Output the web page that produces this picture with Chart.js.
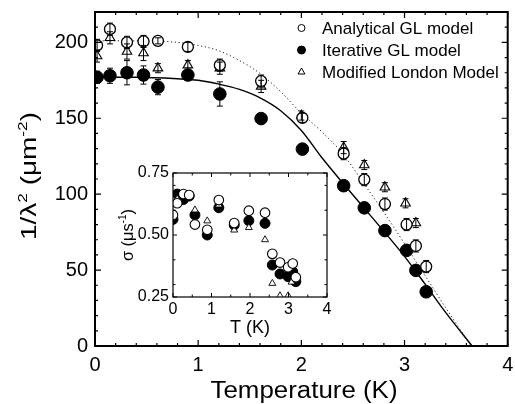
<!DOCTYPE html>
<html><head><meta charset="utf-8">
<script src="https://cdn.jsdelivr.net/npm/chart.js@4/dist/chart.umd.min.js"></script>
<style>
html,body{margin:0;padding:0;background:#fff;}
#wrap{position:relative;width:515px;height:404px;overflow:hidden;}
#main{position:absolute;left:0;top:0;}
#inset{position:absolute;left:100px;top:160px;}
</style></head><body>
<div id="wrap"><canvas id="main" width="515" height="404"></canvas><canvas id="inset" width="235" height="185"></canvas></div>
<script>
// ---------- DATA (main panel) ----------
const temps          = [0.02,0.145,0.31,0.47,0.61,0.90,1.21,1.61,2.01,2.41,2.61,2.81,3.02,3.11,3.21];
const analyticalGL   = [198,208.7,200,200.6,201,197,185,174.5,150.3,126.7,109.6,93.5,80,65.9,52.3];
const analyticalErr  = [4,4,4,4,2,3,4,4,3,4,4,4,4,4,4];
const iterativeGL    = [177,178,180,178.5,170.5,178.5,166,149.8,129.7,105.6,91,76,63,49.8,35.7];
const iterativeErr   = [4,5,8,6,5,3,8,0,0,0,0,0,0,0,0];
const londonTemps    = [0.02,0.145,0.31,0.47,0.61,0.90,1.21,1.61,2.0,2.41,2.61,2.81,3.01,3.11];
const modifiedLondon = [191,203,194,193,183,185,183,171,151.8,130.7,119.2,104.6,94,81];
const londonErr      = [4,4,5,5,3,3,4,4,3,4,3,3,3,3];
// fit curves
const dottedFitT     = [0,0.4,0.8,1.0,1.2,1.4,1.6,1.8,2.0,2.2,2.4,2.6,2.8,3.0,3.2,3.4,3.645];
const analyticalFit  = [201,201,200,198,194.5,188,179.5,167.5,153.3,141,126.7,107.6,88,67.4,46.3,25.1,0];
const solidFitT      = [0,0.4,0.8,1.0,1.2,1.4,1.6,1.8,2.0,2.2,2.4,2.6,2.8,3.0,3.2,3.4,3.655];
const iterativeFit   = [177,177,176,175,172.5,169,163.5,155,142,124,107.5,91.5,75.5,59,40.7,22,0];
// ticks
const tempTicks      = [0,1,2,3,4];
const tempMinor      = [0.2,0.4,0.6,0.8,1.2,1.4,1.6,1.8,2.2,2.4,2.6,2.8,3.2,3.4,3.6,3.8];
const lambdaTicks    = [0,50,100,150,200];
const lambdaMinor    = [10,20,30,40,60,70,80,90,110,120,130,140,160,170,180,190,210];
// ---------- DATA (inset) ----------
const insetTemps     = [0,0.11,0.27,0.42,0.57,0.89,1.19,1.59,1.97,2.39,2.58,2.78,2.99,3.11,3.19];
const sigmaAnalytical= [0.581,0.628,0.665,0.661,0.542,0.521,0.641,0.548,0.598,0.590,0.424,0.389,0.370,0.385,0.330];
const sigmaIterative = [0.563,0.665,0.643,0.657,0.581,0.500,0.610,0.540,0.558,0.547,0.379,0.343,0.332,0.352,0.312];
const insetLondonT   = [0,0.11,0.27,0.42,0.57,0.89,1.19,1.59,1.97,2.39,2.58,2.78,2.99,3.08];
const sigmaLondon    = [0.575,0.645,0.665,0.660,0.601,0.557,0.621,0.520,0.530,0.481,0.305,0.255,0.255,0.310];
const insetTTicks    = [0,1,2,3,4];
const insetTMinor    = [0.5,1.5,2.5,3.5];
const sigmaTicks     = [0.25,0.50,0.75];
const sigmaMinor     = [0.3,0.4,0.6,0.7];
const legendLabels   = ['Analytical GL model','Iterative GL model','Modified London Model'];

const FONT = "'Liberation Sans', Arial, Helvetica, sans-serif";
Chart.defaults.font.family = FONT;
Chart.defaults.color = '#000';
const pts = (xs, ys) => xs.map((x,i)=>({x:x, y:ys[i]}));

function drawRich(ctx, parts, size, x, y, rotate, targetLen){
  ctx.save();
  ctx.translate(x,y);
  if (rotate) ctx.rotate(-Math.PI/2);
  const sup = size*0.62;
  let w = 0;
  parts.forEach(([t,s])=>{ ctx.font = (s?sup:size)+'px '+FONT; w += ctx.measureText(t).width; });
  const k = targetLen ? targetLen/w : 1;
  ctx.scale(k,1);
  ctx.textAlign='left'; ctx.textBaseline='alphabetic'; ctx.fillStyle='#000';
  let cx = -w/2;
  parts.forEach(([t,s])=>{ ctx.font = (s?sup:size)+'px '+FONT; ctx.fillText(t, cx, s ? -size*0.42 : 0); cx += ctx.measureText(t).width; });
  ctx.restore();
}

function framePlugin(o){
  return { id:'frame'+o.name, afterDraw(chart){
    const {ctx, chartArea:a, scales:{x,y}} = chart;
    ctx.save(); ctx.strokeStyle='#000';
    ctx.lineWidth = o.tw;
    const tick = (vals, len, isX) => {
      ctx.beginPath();
      vals.forEach(v=>{
        if (isX){ const p=x.getPixelForValue(v); ctx.moveTo(p,a.bottom); ctx.lineTo(p,a.bottom-len); ctx.moveTo(p,a.top); ctx.lineTo(p,a.top+len); }
        else { const p=y.getPixelForValue(v); ctx.moveTo(a.left,p); ctx.lineTo(a.left+len,p); ctx.moveTo(a.right,p); ctx.lineTo(a.right-len,p); }
      });
      ctx.stroke();
    };
    tick(o.xMajor,o.major,true); tick(o.xMinor,o.minor,true);
    tick(o.yMajor,o.major,false); tick(o.yMinor,o.minor,false);
    ctx.lineWidth = o.lw;
    ctx.strokeRect(a.left, a.top, a.right-a.left, a.bottom-a.top);
    ctx.restore();
  }};
}

const errorBars = { id:'errorBars', afterDatasetsDraw(chart){
  const ctx = chart.ctx, ys = chart.scales.y;
  ctx.save(); ctx.strokeStyle='#000'; ctx.lineWidth=1;
  chart.data.datasets.forEach((ds,i)=>{
    if (!ds.errors) return;
    const meta = chart.getDatasetMeta(i);
    meta.data.forEach((pt,j)=>{
      const e = ds.errors[j]; if (!e) return;
      const v = ds.data[j].y;
      const y1 = ys.getPixelForValue(v+e), y2 = ys.getPixelForValue(v-e);
      ctx.beginPath();
      ctx.moveTo(pt.x,y1); ctx.lineTo(pt.x,y2);
      ctx.moveTo(pt.x-3,y1); ctx.lineTo(pt.x+3,y1);
      ctx.moveTo(pt.x-3,y2); ctx.lineTo(pt.x+3,y2);
      ctx.stroke();
    });
  });
  ctx.restore();
}};

const mainDecor = { id:'mainDecor', afterDraw(chart){
  const ctx = chart.ctx;
  drawRich(ctx, [['Temperature (K)',false]], 23, 304, 398, false, 187);
  drawRich(ctx, [['1/λ',false],['2',true],[' (μm',false],['-2',true],[')',false]], 22, 36, 176, true, 128);
  const ds = chart.data.datasets;
  const rows = [[0,28],[2,50],[1,72]];
  ctx.save();
  rows.forEach(([di,yy],r)=>{
    const d = ds[di];
    ctx.lineWidth=1; ctx.strokeStyle='#000';
    ctx.fillStyle = d.pointBackgroundColor;
    ctx.beginPath();
    if (d.pointStyle==='triangle'){
      const R=4;
      ctx.moveTo(301.5, yy-R); ctx.lineTo(301.5+R*0.866, yy+R*0.5); ctx.lineTo(301.5-R*0.866, yy+R*0.5); ctx.closePath();
    } else {
      ctx.arc(301.5, yy, d.pointBackgroundColor==='#000'?4:3.5, 0, Math.PI*2);
    }
    ctx.fill(); ctx.stroke();
    ctx.fillStyle='#000'; ctx.font='17px '+FONT; ctx.textBaseline='middle'; ctx.textAlign='left';
    ctx.fillText(legendLabels[r], 322, yy+1);
  });
  ctx.restore();
}};

const noPad = s => { s.paddingLeft = 0; s.paddingRight = 0; s.paddingTop = 0; s.paddingBottom = 0; };

new Chart(document.getElementById('main'), {
  type:'scatter',
  data:{ datasets:[
    {label:legendLabels[0], data:pts(temps, analyticalGL), errors:analyticalErr, pointStyle:'circle', pointRadius:5.5, pointBackgroundColor:'#fff', pointBorderColor:'#000', pointBorderWidth:1.3},
    {label:legendLabels[2], data:pts(londonTemps, modifiedLondon), errors:londonErr, pointStyle:'triangle', pointRadius:5.5, pointBackgroundColor:'#fff', pointBorderColor:'#000', pointBorderWidth:1.1},
    {label:legendLabels[1], data:pts(temps, iterativeGL), errors:iterativeErr, pointStyle:'circle', pointRadius:6.3, pointBackgroundColor:'#000', pointBorderColor:'#000', pointBorderWidth:1},
    {label:'Analytical GL fit', data:pts(dottedFitT, analyticalFit), showLine:true, pointRadius:0, borderColor:'#222', borderWidth:1, borderDash:[1.2,2.6], cubicInterpolationMode:'monotone'},
    {label:'Iterative GL fit', data:pts(solidFitT, iterativeFit), showLine:true, pointRadius:0, borderColor:'#000', borderWidth:1.4, cubicInterpolationMode:'monotone'}
  ]},
  options:{
    responsive:false, animation:false, events:[],
    layout:{padding:{left:0, top:12, right:6, bottom:0}},
    plugins:{legend:{display:false}, tooltip:{enabled:false}},
    scales:{
      x:{type:'linear', min:0, max:4, grid:{display:false}, border:{display:false},
         ticks:{font:{size:20}, padding:-1, maxRotation:0, callback:v=>String(v)},
         afterBuildTicks:s=>{ s.ticks = tempTicks.map(v=>({value:v})); },
         afterFit:s=>{ s.height = 58; noPad(s); }},
      y:{type:'linear', min:0, max:220, grid:{display:false}, border:{display:false},
         ticks:{font:{size:20}, padding:-1, callback:v=>String(v)},
         afterBuildTicks:s=>{ s.ticks = lambdaTicks.map(v=>({value:v})); },
         afterFit:s=>{ s.width = 95; noPad(s); }}
    }
  },
  plugins:[errorBars, framePlugin({name:'m', lw:2, tw:1.2, major:6, minor:3, xMajor:tempTicks, xMinor:tempMinor, yMajor:lambdaTicks, yMinor:lambdaMinor}), mainDecor]
});

// ---------- inset ----------
const insetBg = { id:'insetBg', beforeDraw(chart){ const {ctx, chartArea:a}=chart; ctx.save(); ctx.fillStyle='#fff'; ctx.fillRect(a.left,a.top,a.right-a.left,a.bottom-a.top); ctx.restore(); } };
const insetDecor = { id:'insetDecor', afterDraw(chart){
  const ctx = chart.ctx;
  drawRich(ctx, [['T (K)',false]], 18, 150, 173, false, 40);
  drawRich(ctx, [['σ (μs',false],['-1',true],[')',false]], 17, 33, 75, true, 52);
}};
new Chart(document.getElementById('inset'), {
  type:'scatter',
  data:{ datasets:[
    {label:legendLabels[0], data:pts(insetTemps, sigmaAnalytical), pointStyle:'circle', pointRadius:4.8, pointBackgroundColor:'#fff', pointBorderColor:'#000', pointBorderWidth:1.1},
    {label:legendLabels[2], data:pts(insetLondonT, sigmaLondon), pointStyle:'triangle', pointRadius:4, pointBackgroundColor:'#fff', pointBorderColor:'#000', pointBorderWidth:0.9},
    {label:legendLabels[1], data:pts(insetTemps, sigmaIterative), pointStyle:'circle', pointRadius:5, pointBackgroundColor:'#000', pointBorderColor:'#000', pointBorderWidth:1}
  ]},
  options:{
    responsive:false, animation:false, events:[],
    layout:{padding:{left:0, top:13, right:8, bottom:0}},
    plugins:{legend:{display:false}, tooltip:{enabled:false}},
    scales:{
      x:{type:'linear', min:0, max:4, grid:{display:false}, border:{display:false},
         ticks:{font:{size:16}, padding:-5, maxRotation:0, callback:v=>String(v)},
         afterBuildTicks:s=>{ s.ticks = insetTTicks.map(v=>({value:v})); },
         afterFit:s=>{ s.height = 48; noPad(s); }},
      y:{type:'linear', min:0.25, max:0.75, grid:{display:false}, border:{display:false},
         ticks:{font:{size:16}, padding:-4, callback:v=>Number(v).toFixed(2)},
         afterBuildTicks:s=>{ s.ticks = sigmaTicks.map(v=>({value:v})); },
         afterFit:s=>{ s.width = 73; noPad(s); }}
    }
  },
  plugins:[insetBg, framePlugin({name:'i', lw:1.2, tw:1, major:4, minor:2.5, xMajor:insetTTicks, xMinor:insetTMinor, yMajor:sigmaTicks, yMinor:sigmaMinor}), insetDecor]
});
</script>
</body></html>
